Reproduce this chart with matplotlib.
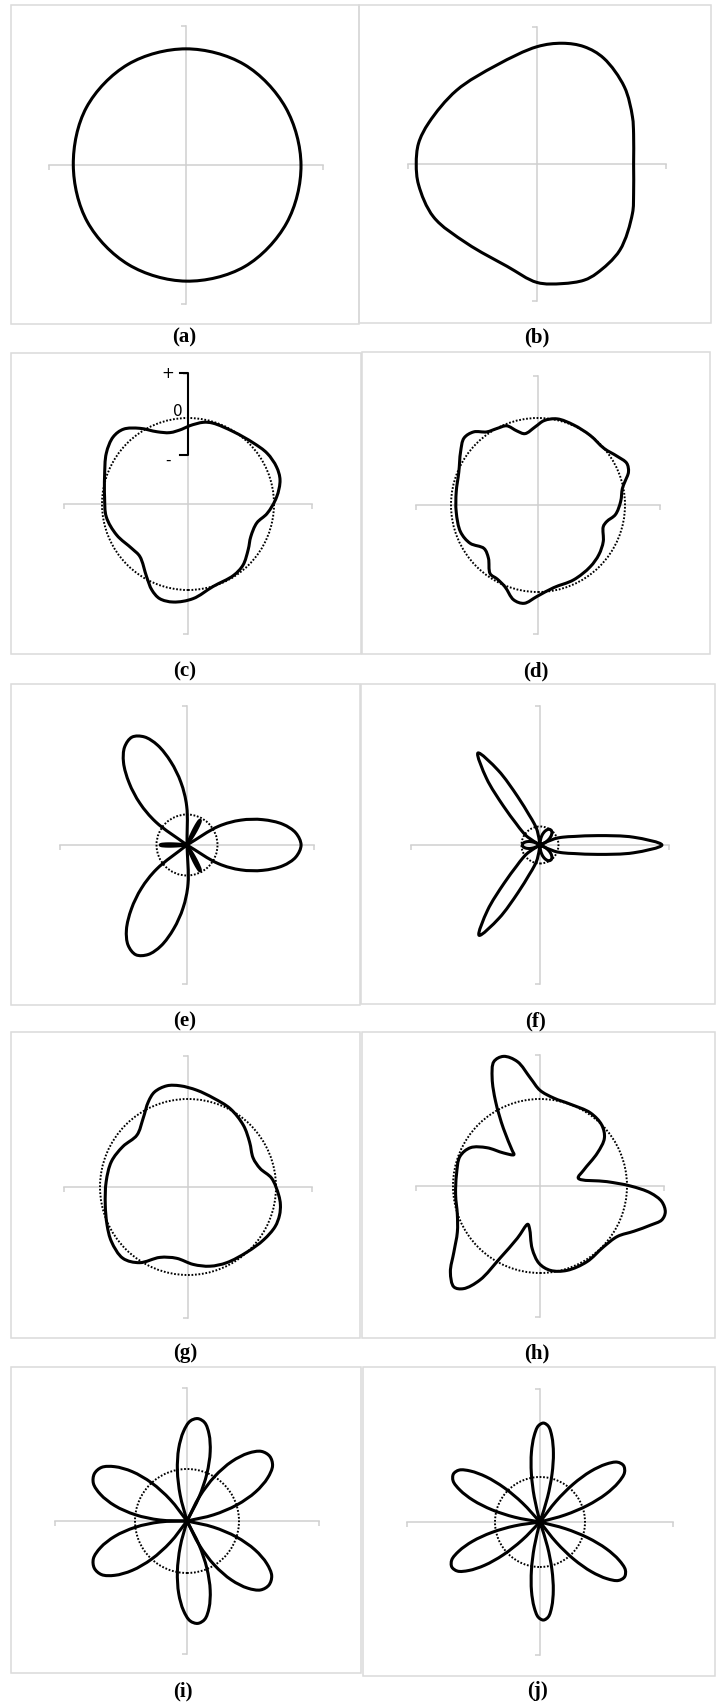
import numpy as np
import matplotlib
matplotlib.use("Agg")
import matplotlib.pyplot as plt
from matplotlib.path import Path
from matplotlib.patches import PathPatch, Circle, Rectangle

W, H = 717, 1707  # figure size in pixels

# -------------------------------
# Shape data (unit = radius of the reference circle)
# -------------------------------
# (a) circle, sampled every 30 degrees
a_angle = [0, 30, 60, 90, 120, 150, 180, 210, 240, 270, 300, 330]
a_radius = [1.00, 1.00, 1.01, 1.01, 1.01, 1.00, 0.98, 0.99, 1.00, 1.01, 1.02, 1.01]

# (b) rounded triangle
b_x = [0.84, 0.84, 0.83, 0.76, 0.58, 0.41, 0.22, 0.00, -0.35, -0.70, -0.94, -1.03,
       -1.05, -1.03, -0.90, -0.61, -0.26, 0.00, 0.22, 0.41, 0.52, 0.72, 0.83, 0.84]
b_y = [0.00, 0.26, 0.41, 0.67, 0.92, 1.02, 1.05, 1.02, 0.86, 0.64, 0.36, 0.18,
       0.00, -0.18, -0.46, -0.69, -0.89, -1.03, -1.04, -1.01, -0.95, -0.75, -0.43, -0.26]

# (c) perturbed contour
c_x = [1.07, 1.03, 0.92, 0.80, 0.73, 0.70, 0.64, 0.53, 0.29, 0.06,
       -0.17, -0.33, -0.42, -0.48, -0.56, -0.65, -0.83, -0.95, -0.97, -0.97,
       -0.95, -0.87, -0.75, -0.56, -0.36, -0.21, -0.07, 0.02, 0.18, 0.29,
       0.53, 0.76, 0.92, 1.03]
c_y = [0.28, 0.08, -0.11, -0.22, -0.38, -0.53, -0.71, -0.83, -0.96, -1.10,
       -1.14, -1.10, -1.00, -0.85, -0.61, -0.52, -0.36, -0.15, 0.08, 0.32,
       0.59, 0.78, 0.87, 0.88, 0.84, 0.83, 0.87, 0.91, 0.95, 0.94,
       0.84, 0.71, 0.59, 0.43]

# (d) perturbed contour, higher order
d_x = [0.95, 0.97, 1.00, 1.04, 1.02, 0.91, 0.76, 0.60, 0.41, 0.22,
       0.07, -0.03, -0.15, -0.24, -0.36, -0.47, -0.59, -0.74, -0.85, -0.89,
       -0.91, -0.94, -0.94, -0.89, -0.78, -0.62, -0.57, -0.55, -0.47, -0.38,
       -0.28, -0.16, -0.01, 0.18, 0.41, 0.60, 0.70, 0.75, 0.75, 0.79, 0.89]
d_y = [0.04, 0.19, 0.27, 0.38, 0.48, 0.56, 0.65, 0.80, 0.92, 0.99,
       0.97, 0.90, 0.82, 0.85, 0.91, 0.88, 0.84, 0.84, 0.77, 0.61,
       0.38, 0.15, -0.08, -0.31, -0.44, -0.50, -0.61, -0.79, -0.85, -0.94,
       -1.09, -1.13, -1.05, -0.95, -0.86, -0.71, -0.57, -0.42, -0.25, -0.19, -0.11]

# (g) smooth three-fold contour
g_x = [1.05, 1.03, 0.95, 0.82, 0.74, 0.70, 0.63, 0.48, 0.29, 0.10,
       -0.09, -0.24, -0.38, -0.45, -0.51, -0.58, -0.74, -0.87, -0.93, -0.94,
       -0.92, -0.87, -0.74, -0.55, -0.32, -0.13, 0.06, 0.25, 0.44, 0.67,
       0.86, 0.99, 1.04]
g_y = [-0.20, -0.09, 0.10, 0.21, 0.33, 0.51, 0.70, 0.89, 1.01, 1.10,
       1.15, 1.15, 1.08, 0.97, 0.78, 0.59, 0.46, 0.29, 0.06, -0.20,
       -0.43, -0.62, -0.81, -0.86, -0.80, -0.81, -0.88, -0.90, -0.86, -0.74,
       -0.60, -0.45, -0.32]

# (h) three-fold contour with spikes
h_x = [1.44, 1.40, 1.27, 1.04, 0.77, 0.44, 0.50, 0.66, 0.74, 0.71,
       0.58, 0.35, 0.16, 0.00, -0.11, -0.26, -0.42, -0.53, -0.55, -0.51,
       -0.42, -0.32, -0.30, -0.42, -0.61, -0.80, -0.92, -0.96, -0.97, -0.95,
       -0.95, -0.99, -1.03, -0.99, -0.88, -0.69, -0.46, -0.26, -0.14, -0.12,
       -0.09, -0.01, 0.12, 0.31, 0.54, 0.73, 0.89, 1.08, 1.27, 1.40]
h_y = [-0.30, -0.18, -0.08, 0.00, 0.05, 0.09, 0.18, 0.38, 0.55, 0.70,
       0.84, 0.94, 1.01, 1.10, 1.24, 1.43, 1.49, 1.43, 1.24, 0.97,
       0.66, 0.41, 0.36, 0.38, 0.44, 0.44, 0.34, 0.13, -0.10, -0.33,
       -0.53, -0.76, -0.99, -1.16, -1.18, -1.08, -0.83, -0.60, -0.44, -0.49,
       -0.72, -0.89, -0.97, -0.97, -0.87, -0.70, -0.58, -0.52, -0.45, -0.39]

# Petal profiles: radius fraction from tip (u=0) to base (u=1)
petal_u = [0.0, 0.17, 0.33, 0.50, 0.67, 0.83, 1.0]
round_profile = [1.0, 0.97, 0.87, 0.71, 0.50, 0.26, 0.0]
e_profile = [1.0, 0.96, 0.86, 0.70, 0.52, 0.32, 0.0]
f_profile = [1.0, 0.77, 0.48, 0.29, 0.20, 0.13, 0.0]

# (e) three big petals + three short ones
e_angle = [0, 117, 245]
e_length = [3.74, 3.97, 3.97]
e_span = [37, 32, 32]
e_small_angle = [62, 180, 297]
e_small_length = [0.92, 0.88, 0.95]
e_small_span = [7, 7, 7]

# (f) three thin petals + small central loops
f_angle = [0, 124, 236]
f_length = [6.59, 6.00, 5.89]
f_span = [28, 28, 28]
f_small_angle = [55, 180, 305]
f_small_length = [1.0, 0.95, 1.0]
f_small_span = [36, 32, 36]

# (i), (j) six petals
i_angle = [38, 84, 153, 207, 276, 322]
i_length = [2.02, 1.98, 2.00, 2.00, 1.98, 2.00]
i_span = [30, 25, 30, 30, 25, 30]
j_angle = [34, 88, 151, 207, 272, 327]
j_length = [2.24, 2.20, 2.20, 2.20, 2.18, 2.24]
j_span = [22, 18, 22, 22, 18, 22]

# -------------------------------
# Layout (pixels): frame box, centre, pixels per unit, axis arm lengths
# -------------------------------
frames = {'a': (11, 5, 359, 324), 'b': (359, 5, 711, 323),
          'c': (11, 353, 361, 654), 'd': (362, 352, 710, 654),
          'e': (11, 684, 360, 1005), 'f': (361, 684, 715, 1004),
          'g': (11, 1032, 360, 1338), 'h': (362, 1032, 715, 1338),
          'i': (11, 1367, 361, 1673), 'j': (363, 1367, 715, 1676)}
centers = {'a': (186, 165), 'b': (537, 164), 'c': (188, 504), 'd': (538, 505),
           'e': (187, 845), 'f': (540, 845), 'g': (188, 1187), 'h': (540, 1186),
           'i': (187, 1521), 'j': (540, 1522)}
units = {'a': 115, 'b': 115, 'c': 86, 'd': 87, 'e': 30.5, 'f': 18.5,
         'g': 88, 'h': 87, 'i': 52, 'j': 45}
arms = {'a': (1.19, 1.21), 'b': (1.12, 1.19), 'c': (1.44, 1.51), 'd': (1.40, 1.48),
        'e': (4.16, 4.56), 'f': (6.97, 7.51), 'g': (1.41, 1.49), 'h': (1.43, 1.51),
        'i': (2.54, 2.55), 'j': (2.96, 2.96)}
label_pos = {'a': (184, 337), 'b': (537, 337), 'c': (185, 671), 'd': (536, 671),
             'e': (185, 1021), 'f': (536, 1021), 'g': (185, 1353), 'h': (537, 1353),
             'i': (183, 1691), 'j': (538, 1691)}

axis_grey = "#cfcfcf"
frame_grey = "#dadada"
curve_lw = 2.2


def smooth_path(pts, closed=True):
    # centripetal Catmull-Rom through the points, as cubic Bezier segments
    pts = np.asarray(pts, float)
    if closed:
        ext = np.vstack([pts[-1], pts, pts[0], pts[1]])
        nseg = len(pts)
    else:
        ext = np.vstack([2 * pts[0] - pts[1], pts, 2 * pts[-1] - pts[-2]])
        nseg = len(pts) - 1
    verts = [ext[1]]
    codes = [Path.MOVETO]
    for k in range(nseg):
        p0, p1, p2, p3 = ext[k:k + 4]
        a1 = max(np.linalg.norm(p1 - p0), 1e-9) ** 0.5
        a2 = max(np.linalg.norm(p2 - p1), 1e-9) ** 0.5
        a3 = max(np.linalg.norm(p3 - p2), 1e-9) ** 0.5
        c1 = (a1**2 * p2 - a2**2 * p0 + (2 * a1**2 + 3 * a1 * a2 + a2**2) * p1) / (3 * a1 * (a1 + a2))
        c2 = (a3**2 * p1 - a2**2 * p3 + (2 * a3**2 + 3 * a3 * a2 + a2**2) * p2) / (3 * a3 * (a3 + a2))
        verts += [c1, c2, p2]
        codes += [Path.CURVE4] * 3
    if closed:
        verts.append(ext[1])
        codes.append(Path.CLOSEPOLY)
    return Path(verts, codes)


def petal(axis_deg, length, span, profile):
    u = np.concatenate([-np.array(petal_u[::-1]), petal_u[1:]])
    frac = np.concatenate([profile[::-1], profile[1:]])
    ang = np.radians(axis_deg + u * span)
    r = length * np.array(frac)
    return smooth_path(np.column_stack([r * np.cos(ang), r * np.sin(ang)]), closed=False)


def draw_path(ax, path):
    ax.add_patch(PathPatch(path, fill=False, ec="black", lw=curve_lw,
                           joinstyle="round", capstyle="round", zorder=3))


def ref_circle(ax):
    ax.add_patch(Circle((0, 0), 1.0, fill=False, ec="black", lw=1.4,
                        ls=(0, (0.9, 0.9)), zorder=2.8))


def make_panel(fig, key):
    x0, y0, x1, y1 = frames[key]
    cx, cy = centers[key]
    u = units[key]
    ax = fig.add_axes([x0 / W, 1 - y1 / H, (x1 - x0) / W, (y1 - y0) / H])
    ax.set_facecolor("none")
    ax.set_xlim((x0 - cx) / u, (x1 - cx) / u)
    ax.set_ylim((cy - y1) / u, (cy - y0) / u)
    ha, va = arms[key]
    ax.spines["top"].set_visible(False)
    ax.spines["right"].set_visible(False)
    ax.spines["left"].set_position(("data", 0))
    ax.spines["bottom"].set_position(("data", 0))
    ax.spines["left"].set_bounds(-va, va)
    ax.spines["bottom"].set_bounds(-ha, ha)
    for s in ["left", "bottom"]:
        ax.spines[s].set_color(axis_grey)
        ax.spines[s].set_linewidth(1.1)
    ax.set_xticks([-ha, ha])
    ax.set_yticks([-va, va])
    ax.tick_params(length=3.5, width=1.1, color=axis_grey, direction="out",
                   labelbottom=False, labelleft=False)
    ax.add_patch(Rectangle((0, 0), 1, 1, transform=ax.transAxes, fill=False,
                           ec=frame_grey, lw=1.1, clip_on=False, zorder=1))
    lx, ly = label_pos[key]
    fig.text(lx / W, 1 - ly / H, "(%s)" % key, ha="center", va="center",
             fontsize=15, fontweight="bold", family="Liberation Serif")
    return ax


fig = plt.figure(figsize=(W / 100, H / 100), dpi=100)
ax = {k: make_panel(fig, k) for k in "abcdefghij"}

# (a)
ang = np.radians(a_angle)
draw_path(ax['a'], smooth_path(np.column_stack([a_radius * np.cos(ang), a_radius * np.sin(ang)])))

# (b)
draw_path(ax['b'], smooth_path(np.column_stack([b_x, b_y])))

# (c) with deviation scale
ref_circle(ax['c'])
draw_path(ax['c'], smooth_path(np.column_stack([c_x, c_y])))
ax['c'].plot([-0.09, 0, 0, -0.09], [1.52, 1.52, 0.57, 0.57], color="black", lw=1.5, zorder=4)
ax['c'].text(-0.24, 1.52, "+", ha="center", va="center", fontsize=11)
ax['c'].text(-0.12, 1.07, "0", ha="center", va="center", fontsize=11)
ax['c'].text(-0.23, 0.51, "-", ha="center", va="center", fontsize=11)

# (d)
ref_circle(ax['d'])
draw_path(ax['d'], smooth_path(np.column_stack([d_x, d_y])))

# (e)
ref_circle(ax['e'])
for a_, l_, s_ in zip(e_angle, e_length, e_span):
    draw_path(ax['e'], petal(a_, l_, s_, e_profile))
for a_, l_, s_ in zip(e_small_angle, e_small_length, e_small_span):
    draw_path(ax['e'], petal(a_, l_, s_, round_profile))

# (f)
ref_circle(ax['f'])
for a_, l_, s_ in zip(f_angle, f_length, f_span):
    draw_path(ax['f'], petal(a_, l_, s_, f_profile))
for a_, l_, s_ in zip(f_small_angle, f_small_length, f_small_span):
    draw_path(ax['f'], petal(a_, l_, s_, round_profile))

# (g), (h)
ref_circle(ax['g'])
draw_path(ax['g'], smooth_path(np.column_stack([g_x, g_y])))
ref_circle(ax['h'])
draw_path(ax['h'], smooth_path(np.column_stack([h_x, h_y])))

# (i), (j)
ref_circle(ax['i'])
for a_, l_, s_ in zip(i_angle, i_length, i_span):
    draw_path(ax['i'], petal(a_, l_, s_, round_profile))
ref_circle(ax['j'])
for a_, l_, s_ in zip(j_angle, j_length, j_span):
    draw_path(ax['j'], petal(a_, l_, s_, round_profile))

fig.savefig("out.png", dpi=100, facecolor="white")
